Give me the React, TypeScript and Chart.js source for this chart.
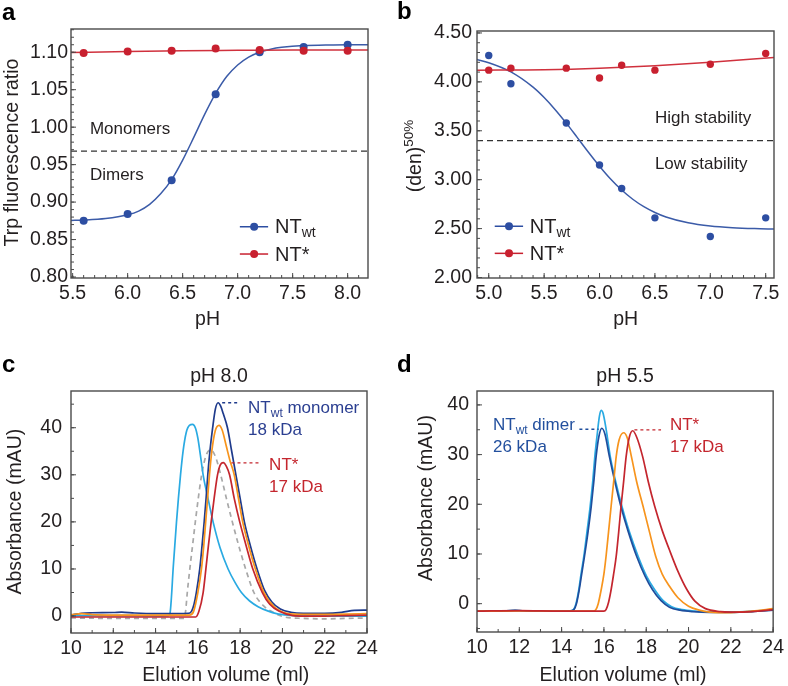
import React, { useEffect, useRef } from "react";
import { Chart, registerables } from "chart.js";

Chart.register(...registerables);

const FONT = '"Liberation Sans", Arial, Helvetica, sans-serif';
const INK = "#231f20";

// ---------------- Panel a: Trp fluorescence ratio vs pH ----------------
const phA = [5.6, 6.0, 6.4, 6.8, 7.2, 7.6, 8.0];
const ntWtA = [0.875, 0.884, 0.929, 1.044, 1.1, 1.107, 1.11];
const ntStarA = [1.099, 1.101, 1.102, 1.105, 1.103, 1.102, 1.102];
const fitPhWtA = [5.48, 5.6, 5.8, 6.0, 6.1, 6.2, 6.3, 6.4, 6.5, 6.6, 6.7, 6.8, 6.9, 7.0, 7.1, 7.2, 7.3, 7.4, 7.6, 7.8, 8.0, 8.19];
const fitWtA = [0.8755, 0.876, 0.878, 0.883, 0.888, 0.897, 0.911, 0.93, 0.956, 0.986, 1.017, 1.045, 1.0675, 1.083, 1.0936, 1.1, 1.104, 1.1065, 1.109, 1.1095, 1.11, 1.11];
const fitPhStarA = [5.48, 6.0, 6.5, 7.0, 7.5, 8.19];
const fitStarA = [1.0995, 1.101, 1.102, 1.1025, 1.103, 1.103];
const xTicksA = [5.5, 6.0, 6.5, 7.0, 7.5, 8.0];
const yTicksA = [0.8, 0.85, 0.9, 0.95, 1.0, 1.05, 1.1];
const thresholdA = 0.968;

// ---------------- Panel b: (den)50% vs pH ----------------
const phB = [5.0, 5.2, 5.7, 6.0, 6.2, 6.5, 7.0, 7.5];
const ntWtB = [4.27, 3.98, 3.58, 3.15, 2.91, 2.61, 2.42, 2.61];
const ntStarB = [4.12, 4.14, 4.14, 4.04, 4.17, 4.12, 4.18, 4.29];
const fitPhWtB = [4.89, 5.0, 5.2, 5.4, 5.5, 5.6, 5.7, 5.8, 5.9, 6.0, 6.1, 6.2, 6.3, 6.4, 6.5, 6.6, 6.8, 7.0, 7.2, 7.4, 7.58];
const fitWtB = [4.229, 4.196, 4.102, 3.946, 3.84, 3.716, 3.578, 3.43, 3.281, 3.138, 3.007, 2.894, 2.8, 2.724, 2.665, 2.619, 2.559, 2.526, 2.509, 2.5, 2.496];
const fitPhStarB = [4.89, 5.5, 6.0, 6.5, 7.0, 7.58];
const fitStarB = [4.12, 4.125, 4.14, 4.165, 4.2, 4.25];
const xTicksB = [5.0, 5.5, 6.0, 6.5, 7.0, 7.5];
const yTicksB = [2.0, 2.5, 3.0, 3.5, 4.0, 4.5];
const thresholdB = 3.4;

// ---------------- Panel c: SEC at pH 8.0 (elution ml, mAU) ----------------
const cLightBlue = [[10, 0.1], [12, 0.1], [14, 0.05], [14.6, 0.1], [14.68, 0.5], [14.75, 4], [14.83, 10], [14.91, 15], [14.99, 20], [15.08, 25], [15.18, 30], [15.3, 35], [15.45, 39], [15.6, 40.5], [15.75, 40.7], [15.88, 40], [16.0, 37.8], [16.12, 34.2], [16.25, 30], [16.48, 25], [16.72, 20], [17.05, 14.5], [17.43, 10], [17.75, 7.2], [18.06, 5], [18.45, 3.2], [18.85, 2], [19.3, 1.1], [19.72, 0.5], [20.35, 0.15], [21, 0], [22, 0], [23, 0], [24, 0]];
const cGray = [[10, -0.4], [12, -0.5], [14, -0.5], [15.35, -0.5], [15.42, 1], [15.5, 5], [15.62, 10], [15.75, 15], [15.88, 20], [16.02, 25], [16.18, 30], [16.38, 34], [16.6, 35.3], [16.82, 34], [17.08, 30], [17.35, 25], [17.63, 20], [17.93, 15], [18.26, 10], [18.65, 5], [19.1, 2.2], [19.56, 0.8], [20.1, -0.2], [21, -0.5], [22, -0.6], [23, -0.5], [24, -0.4]];
const cDarkBlue = [[10, 0.2], [10.5, 0.6], [11, 0.7], [12, 0.75], [12.4, 0.85], [13, 0.65], [14, 0.5], [15, 0.5], [15.55, 0.55], [15.7, 1], [15.82, 2.5], [15.93, 5], [16.09, 10], [16.2, 15], [16.3, 20], [16.39, 25], [16.47, 30], [16.57, 35], [16.7, 40], [16.83, 44], [16.96, 45.3], [17.08, 44.6], [17.2, 43], [17.4, 40], [17.6, 35], [17.8, 30], [18.0, 25], [18.2, 20], [18.48, 15], [18.8, 10], [19.15, 5.5], [19.5, 3], [19.9, 1.5], [20.4, 0.8], [21, 0.6], [22, 0.6], [22.8, 0.8], [23.4, 1.2], [24, 1.25]];
const cOrange = [[10, 0.3], [10.5, 0.5], [11, 0.3], [12, 0.2], [14, 0.2], [15.6, 0.2], [15.8, 1], [16.0, 5], [16.17, 10], [16.28, 15], [16.37, 20], [16.46, 25], [16.55, 30], [16.66, 35], [16.82, 39.3], [17.0, 40.5], [17.15, 39.5], [17.35, 36], [17.52, 33], [17.72, 30], [17.92, 25], [18.12, 20], [18.4, 15], [18.72, 10], [19.1, 5.2], [19.6, 2], [20.2, 0.6], [21, 0.35], [22, 0.35], [23, 0.4], [24, 0.5]];
const cRed = [[10, -0.2], [12, -0.2], [14, -0.2], [15.9, -0.2], [16.05, 1], [16.25, 5], [16.38, 10], [16.5, 15], [16.63, 20], [16.77, 25], [16.93, 30], [17.05, 32], [17.2, 32.6], [17.35, 31.8], [17.5, 30], [17.72, 25], [17.98, 20], [18.28, 15], [18.6, 10], [19.05, 5], [19.4, 2.5], [19.85, 1], [20.5, 0.1], [21, 0], [22, 0], [23, 0.1], [24, 0.2]];
const xTicksCD = [10, 12, 14, 16, 18, 20, 22, 24];
const yTicksC = [0, 10, 20, 30, 40];

// ---------------- Panel d: SEC at pH 5.5 ----------------
const dDarkBlue = [[10, -1.5], [11, -1.5], [11.8, -1.35], [12.5, -1.5], [13.5, -1.5], [14.4, -1.45], [14.58, -1.2], [14.7, 0], [14.82, 2.5], [14.95, 6], [15.08, 9.5], [15.25, 14.5], [15.4, 19.6], [15.52, 24.5], [15.63, 29.6], [15.76, 33.6], [15.9, 35.3], [16.05, 34.1], [16.26, 29.6], [16.52, 24.5], [16.8, 19.6], [17.15, 14.5], [17.55, 9.5], [17.95, 5.5], [18.3, 2.8], [18.7, 0.6], [19.1, -0.7], [19.6, -1.3], [20.2, -1.6], [21, -1.75], [22, -1.75], [23, -1.6], [24, -1.3]];
const dLightBlue = [[10, -1.5], [11, -1.5], [11.8, -1.35], [12.5, -1.5], [13.5, -1.5], [14.4, -1.45], [14.56, -1.2], [14.68, 0], [14.8, 2.5], [14.92, 6], [15.05, 9.5], [15.2, 14.5], [15.35, 19.6], [15.47, 24.5], [15.57, 29.6], [15.68, 34], [15.79, 37.8], [15.87, 38.9], [15.96, 38.3], [16.1, 35.2], [16.3, 29.6], [16.56, 24.5], [16.85, 19.6], [17.2, 14.5], [17.62, 9.5], [18.02, 5.5], [18.4, 2.8], [18.8, 0.6], [19.2, -0.6], [19.7, -1.2], [20.3, -1.5], [21, -1.65], [22, -1.7], [23, -1.55], [24, -1.25]];
const dOrange = [[10, -1.5], [12, -1.45], [14, -1.5], [15.5, -1.5], [15.62, -1.2], [15.73, 0], [15.87, 2.8], [16.0, 6], [16.1, 9.5], [16.22, 14.5], [16.34, 19.6], [16.46, 24.5], [16.58, 29.6], [16.72, 33], [16.93, 34.4], [17.1, 33.4], [17.3, 29.6], [17.55, 24.5], [17.85, 19.6], [18.15, 14.5], [18.45, 9.5], [18.75, 6], [19.1, 3.5], [19.5, 1.2], [20, -0.5], [20.5, -1.3], [21, -1.7], [22, -1.8], [23, -1.5], [24, -1.0]];
const dRed = [[10, -1.5], [12, -1.4], [14, -1.5], [16.0, -1.5], [16.1, -1.2], [16.22, 0.3], [16.34, 2.8], [16.46, 6], [16.58, 9.5], [16.7, 14.5], [16.81, 19.6], [16.93, 24.5], [17.05, 29.6], [17.2, 33.5], [17.36, 34.8], [17.55, 33.5], [17.83, 29.6], [18.1, 24.5], [18.4, 19.6], [18.75, 14.8], [19.09, 10.9], [19.5, 6.5], [19.9, 3], [20.3, 0.5], [20.8, -1.0], [21.5, -1.6], [22, -1.7], [23, -1.6], [24, -1.2]];
const yTicksD = [0, 10, 20, 30, 40];

// ---------------- colours ----------------
const BLUE = "#2d4ea2";
const RED = "#c8202f";
const C_DARK = "#1f3b8c";
const D_DARK = "#1f4e9d";
const C_LIGHT = "#2aaae2";
const C_ORANGE = "#f7941d";
const C_RED = "#c4262e";
const C_GRAY = "#a8a8a8";

const zip = (xs: number[], ys: number[]) => xs.map((x, i) => ({ x, y: ys[i] }));
const pairs = (p: number[][]) => p.map(([x, y]) => ({ x, y }));

type Part = { t: string; s: number; dy?: number; bold?: boolean };

function rich(ctx: CanvasRenderingContext2D, x: number, y: number, parts: Part[], color: string, align = "left") {
  ctx.save();
  ctx.fillStyle = color;
  ctx.textBaseline = "alphabetic";
  ctx.textAlign = "left";
  let w = 0;
  for (const p of parts) {
    ctx.font = `${p.bold ? "bold " : ""}${p.s}px ${FONT}`;
    w += ctx.measureText(p.t).width;
  }
  let cx = align === "center" ? x - w / 2 : align === "right" ? x - w : x;
  for (const p of parts) {
    ctx.font = `${p.bold ? "bold " : ""}${p.s}px ${FONT}`;
    ctx.fillText(p.t, cx, y + (p.dy || 0));
    cx += ctx.measureText(p.t).width;
  }
  ctx.restore();
}

function rotated(ctx: CanvasRenderingContext2D, x: number, cy: number, parts: Part[], color: string) {
  ctx.save();
  ctx.translate(x, cy);
  ctx.rotate(-Math.PI / 2);
  rich(ctx, 0, 0, parts, color, "center");
  ctx.restore();
}

function hline(ctx: CanvasRenderingContext2D, x1: number, x2: number, y: number, color: string, width: number, dash: number[]) {
  ctx.save();
  ctx.strokeStyle = color;
  ctx.lineWidth = width;
  ctx.setLineDash(dash);
  ctx.beginPath();
  ctx.moveTo(x1, y);
  ctx.lineTo(x2, y);
  ctx.stroke();
  ctx.restore();
}

function legendRow(ctx: CanvasRenderingContext2D, X: any, Y: any, x1: number, x2: number, xm: number, y: number, color: string, tx: number, ty: number, parts: Part[]) {
  hline(ctx, X(x1), X(x2), Y(y), color, 1.5, []);
  ctx.save();
  ctx.fillStyle = color;
  ctx.beginPath();
  ctx.arc(X(xm), Y(y), 4, 0, Math.PI * 2);
  ctx.fill();
  ctx.restore();
  rich(ctx, X(tx), Y(ty), parts, INK);
}

type AxisSpec = { min: number; max: number; ticks: number[]; minor: number; dec: number; pad: number };
type Spec = {
  id: string;
  left: number;
  top: number;
  w: number;
  h: number;
  area: number[];
  x: AxisSpec;
  y: AxisSpec;
  datasets: any[];
  under?: (ctx: CanvasRenderingContext2D, X: any, Y: any, a: any) => void;
  draw: (ctx: CanvasRenderingContext2D, X: any, Y: any, a: any) => void;
};

const fitLine = (data: any[], color: string, order: number) => ({
  data,
  showLine: true,
  borderColor: color,
  borderWidth: 1.5,
  pointRadius: 0,
  cubicInterpolationMode: "monotone",
  order,
});
const dots = (data: any[], color: string, order: number, r = 4) => ({
  data,
  showLine: false,
  pointRadius: r,
  pointBackgroundColor: color,
  pointBorderWidth: 0,
  pointBorderColor: color,
  order,
});
const trace = (data: any[], color: string, order: number, dash: number[] = []) => ({
  data,
  showLine: true,
  borderColor: color,
  borderWidth: 1.7,
  borderDash: dash,
  pointRadius: 0,
  cubicInterpolationMode: "monotone",
  order,
});

const specA: Spec = {
  id: "a",
  left: 0,
  top: 0,
  w: 394,
  h: 330,
  area: [71, 29, 368, 278],
  x: { min: 5.485, max: 8.185, ticks: xTicksA, minor: 0.1, dec: 1, pad: 4 },
  y: { min: 0.7987, max: 1.131, ticks: yTicksA, minor: 0.01, dec: 2, pad: 3 },
  datasets: [
    dots(zip(phA, ntStarA), RED, 0),
    dots(zip(phA, ntWtA), BLUE, 1),
    fitLine(zip(fitPhStarA, fitStarA), "#d0313d", 2),
    fitLine(zip(fitPhWtA, fitWtA), "#3b5ba8", 3),
  ],
  under: (ctx, X, Y, a) => hline(ctx, a.left, a.right, Y(thresholdA), "#333", 1.3, [6, 4]),
  draw: (ctx, X, Y, a) => {
    rich(ctx, X(5.657), Y(0.9907), [{ t: "Monomers", s: 17 }], INK);
    rich(ctx, X(5.657), Y(0.9293), [{ t: "Dimers", s: 17 }], INK);
    legendRow(ctx, X, Y, 7.02, 7.277, 7.15, 0.8671, BLUE, 7.34, 0.8587, [{ t: "NT", s: 20 }, { t: "wt", s: 14, dy: 4 }]);
    legendRow(ctx, X, Y, 7.02, 7.277, 7.15, 0.8307, RED, 7.34, 0.8213, [{ t: "NT*", s: 20 }]);
    rich(ctx, 2, 20, [{ t: "a", s: 24, bold: true }], "#000");
    rich(ctx, 207.5, 325, [{ t: "pH", s: 19.5 }], INK, "center");
    rotated(ctx, 17.5, 152.5, [{ t: "Trp fluorescence ratio", s: 19.5 }], INK);
  },
};

const specB: Spec = {
  id: "b",
  left: 394,
  top: 0,
  w: 394,
  h: 330,
  area: [83, 31, 380, 278],
  x: { min: 4.894, max: 7.575, ticks: xTicksB, minor: 0.1, dec: 1, pad: 4 },
  y: { min: 1.995, max: 4.52, ticks: yTicksB, minor: 0.1, dec: 2, pad: 5 },
  datasets: [
    dots(zip(phB, ntStarB), RED, 0, 3.7),
    dots(zip(phB, ntWtB), BLUE, 1, 3.7),
    fitLine(zip(fitPhStarB, fitStarB), "#d0313d", 2),
    fitLine(zip(fitPhWtB, fitWtB), "#3b5ba8", 3),
  ],
  under: (ctx, X, Y, a) => hline(ctx, a.left, a.right, Y(thresholdB), "#333", 1.3, [6, 4]),
  draw: (ctx, X, Y, a) => {
    rich(ctx, X(6.5), Y(3.578), [{ t: "High stability", s: 17 }], INK);
    rich(ctx, X(6.5), Y(3.108), [{ t: "Low stability", s: 17 }], INK);
    legendRow(ctx, X, Y, 5.054, 5.31, 5.183, 2.524, BLUE, 5.37, 2.46, [{ t: "NT", s: 20 }, { t: "wt", s: 14, dy: 4 }]);
    legendRow(ctx, X, Y, 5.054, 5.31, 5.183, 2.247, RED, 5.37, 2.176, [{ t: "NT*", s: 20 }]);
    rich(ctx, 3, 19, [{ t: "b", s: 24, bold: true }], "#000");
    rich(ctx, 231.7, 325, [{ t: "pH", s: 19.5 }], INK, "center");
    rotated(ctx, 27, 156, [{ t: "(den)", s: 19.5 }, { t: "50%", s: 13.5, dy: -8 }], INK);
  },
};

const specC: Spec = {
  id: "c",
  left: 0,
  top: 330,
  w: 394,
  h: 356,
  area: [71, 61, 367, 303],
  x: { min: 10, max: 24, ticks: xTicksCD, minor: 1, dec: 0, pad: 4 },
  y: { min: -3.6, max: 47.8, ticks: yTicksC, minor: 5, dec: 0, pad: 9 },
  datasets: [
    trace(pairs(cRed), C_RED, 0),
    trace(pairs(cOrange), C_ORANGE, 1),
    trace(pairs(cDarkBlue), C_DARK, 2),
    trace(pairs(cLightBlue), C_LIGHT, 3),
    trace(pairs(cGray), C_GRAY, 4, [5, 4]),
  ],
  draw: (ctx, X, Y, a) => {
    hline(ctx, X(17.15), X(17.98), Y(45.3), C_DARK, 1.3, [3, 3]);
    rich(ctx, X(18.375), Y(43.06), [{ t: "NT", s: 17 }, { t: "wt", s: 12, dy: 4 }, { t: " monomer", s: 17 }], "#2b3f91");
    rich(ctx, X(18.375), Y(38.45), [{ t: "18 kDa", s: 17 }], "#2b3f91");
    hline(ctx, X(17.59), X(18.93), Y(32.55), C_RED, 1.3, [3, 3]);
    rich(ctx, X(19.37), Y(31.0), [{ t: "NT*", s: 17 }], C_RED);
    rich(ctx, X(19.37), Y(26.4), [{ t: "17 kDa", s: 17 }], C_RED);
    rich(ctx, 2, 41.7, [{ t: "c", s: 24, bold: true }], "#000");
    rich(ctx, (a.left + a.right) / 2, 51.7, [{ t: "pH 8.0", s: 19.5 }], INK, "center");
    rich(ctx, 225.8, 350.7, [{ t: "Elution volume (ml)", s: 19.5 }], INK, "center");
    rotated(ctx, 21, 181.7, [{ t: "Absorbance (mAU)", s: 19.5 }], INK);
  },
};

const specD: Spec = {
  id: "d",
  left: 394,
  top: 330,
  w: 394,
  h: 356,
  area: [83, 61, 380, 302],
  x: { min: 10, max: 24, ticks: xTicksCD, minor: 1, dec: 0, pad: 4 },
  y: { min: -5.7, max: 42.8, ticks: yTicksD, minor: 5, dec: 0, pad: 8 },
  datasets: [
    trace(pairs(dRed), C_RED, 0),
    trace(pairs(dOrange), C_ORANGE, 1),
    trace(pairs(dDarkBlue), D_DARK, 2),
    trace(pairs(dLightBlue), C_LIGHT, 3),
  ],
  draw: (ctx, X, Y, a) => {
    rich(ctx, X(10.755), Y(34.9), [{ t: "NT", s: 17 }, { t: "wt", s: 12, dy: 4 }, { t: " dimer", s: 17 }], "#23509e");
    rich(ctx, X(10.755), Y(30.5), [{ t: "26 kDa", s: 17 }], "#23509e");
    hline(ctx, X(14.84), X(15.75), Y(35.1), D_DARK, 1.3, [3, 3]);
    hline(ctx, X(17.44), X(18.7), Y(34.97), C_RED, 1.3, [3, 3]);
    rich(ctx, X(19.12), Y(34.9), [{ t: "NT*", s: 17 }], C_RED);
    rich(ctx, X(19.12), Y(30.5), [{ t: "17 kDa", s: 17 }], C_RED);
    rich(ctx, 3, 41.7, [{ t: "d", s: 24, bold: true }], "#000");
    rich(ctx, (a.left + a.right) / 2, 51.7, [{ t: "pH 5.5", s: 19.5 }], INK, "center");
    rich(ctx, 229, 350.7, [{ t: "Elution volume (ml)", s: 19.5 }], INK, "center");
    rotated(ctx, 37.7, 168, [{ t: "Absorbance (mAU)", s: 19.5 }], INK);
  },
};

const panels: Spec[] = [specA, specB, specC, specD];

function framePlugin(s: Spec) {
  return {
    id: "frame_" + s.id,
    beforeDatasetsDraw(chart: any) {
      if (!s.under) return;
      const X = (v: number) => chart.scales.x.getPixelForValue(v);
      const Y = (v: number) => chart.scales.y.getPixelForValue(v);
      s.under(chart.ctx, X, Y, chart.chartArea);
    },
    afterDraw(chart: any) {
      const ctx: CanvasRenderingContext2D = chart.ctx;
      const a = chart.chartArea;
      const X = (v: number) => chart.scales.x.getPixelForValue(v);
      const Y = (v: number) => chart.scales.y.getPixelForValue(v);
      ctx.save();
      ctx.strokeStyle = "#4a4a4a";
      ctx.lineWidth = 1.4;
      ctx.strokeRect(a.left, a.top, a.right - a.left, a.bottom - a.top);
      ctx.lineWidth = 1;
      ctx.beginPath();
      const k0x = Math.ceil(s.x.min / s.x.minor - 1e-6);
      const k1x = Math.floor(s.x.max / s.x.minor + 1e-6);
      for (let k = k0x; k <= k1x; k++) {
        const px = X(k * s.x.minor);
        ctx.moveTo(px, a.bottom);
        ctx.lineTo(px, a.bottom - 3);
      }
      const k0y = Math.ceil(s.y.min / s.y.minor - 1e-6);
      const k1y = Math.floor(s.y.max / s.y.minor + 1e-6);
      for (let k = k0y; k <= k1y; k++) {
        const py = Y(k * s.y.minor);
        ctx.moveTo(a.left, py);
        ctx.lineTo(a.left + 3, py);
      }
      for (const v of s.x.ticks) {
        ctx.moveTo(X(v), a.bottom);
        ctx.lineTo(X(v), a.bottom - 5);
      }
      for (const v of s.y.ticks) {
        ctx.moveTo(a.left, Y(v));
        ctx.lineTo(a.left + 5, Y(v));
      }
      ctx.stroke();
      ctx.restore();
      s.draw(ctx, X, Y, a);
    },
  };
}

function buildConfig(s: Spec) {
  const [l, t, r, b] = s.area;
  const tickFont = { family: FONT, size: 19.5 };
  return {
    type: "scatter",
    data: { datasets: s.datasets },
    options: {
      responsive: false,
      animation: false,
      devicePixelRatio: 1,
      events: [],
      layout: { padding: { left: 0, top: t, right: s.w - r, bottom: 0 } },
      plugins: { legend: { display: false }, tooltip: { enabled: false }, title: { display: false } },
      scales: {
        x: {
          type: "linear",
          position: "bottom",
          min: s.x.min,
          max: s.x.max,
          grid: { display: false, drawTicks: false },
          border: { display: false },
          ticks: {
            padding: s.x.pad,
            font: tickFont,
            color: INK,
            maxRotation: 0,
            autoSkip: false,
            includeBounds: false,
            callback: (v: any) => Number(v).toFixed(s.x.dec),
          },
          afterBuildTicks: (sc: any) => {
            sc.ticks = s.x.ticks.map((v) => ({ value: v }));
          },
          afterFit: (sc: any) => {
            sc.height = s.h - b;
          },
        },
        y: {
          type: "linear",
          position: "left",
          min: s.y.min,
          max: s.y.max,
          grid: { display: false, drawTicks: false },
          border: { display: false },
          ticks: {
            padding: s.y.pad,
            font: tickFont,
            color: INK,
            autoSkip: false,
            includeBounds: false,
            callback: (v: any) => Number(v).toFixed(s.y.dec),
          },
          afterBuildTicks: (sc: any) => {
            sc.ticks = s.y.ticks.map((v) => ({ value: v }));
          },
          afterFit: (sc: any) => {
            sc.width = l;
          },
        },
      },
    },
    plugins: [framePlugin(s)],
  };
}

function Panel({ spec }: { spec: Spec }) {
  const ref = useRef<HTMLCanvasElement>(null);
  useEffect(() => {
    const chart = new Chart(ref.current as HTMLCanvasElement, buildConfig(spec) as any);
    return () => chart.destroy();
  }, [spec]);
  return (
    <canvas
      ref={ref}
      width={spec.w}
      height={spec.h}
      style={{ position: "absolute", left: spec.left, top: spec.top, width: spec.w, height: spec.h }}
    />
  );
}

export default function App() {
  return (
    <div style={{ position: "absolute", left: 0, top: 0, width: 788, height: 686, background: "#fff", overflow: "hidden" }}>
      {panels.map((p) => (
        <Panel key={p.id} spec={p} />
      ))}
    </div>
  );
}
